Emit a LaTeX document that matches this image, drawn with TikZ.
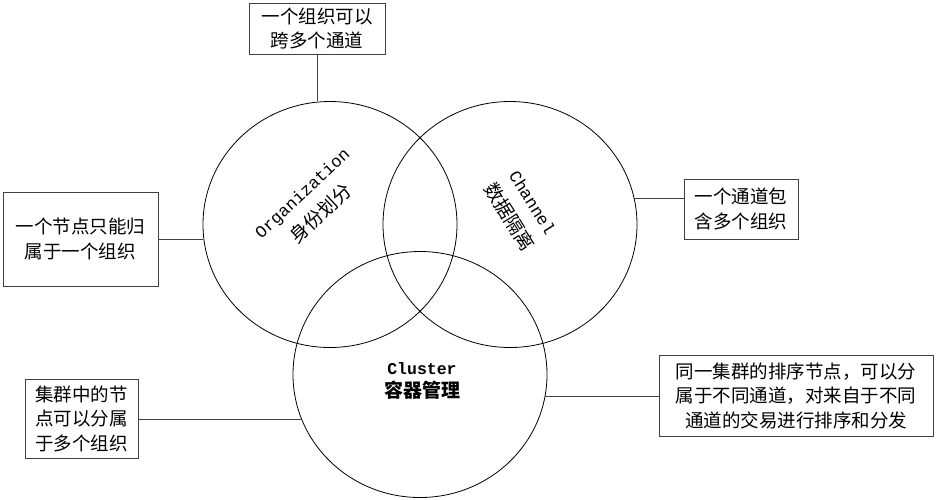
\documentclass[tikz,border=0pt]{standalone}
\usepackage{fontspec}
\setmainfont{Liberation Serif}
\newfontfamily\cjk{Noto Sans CJK SC}
\newfontfamily\monof{Liberation Mono}
\usetikzlibrary{shapes.geometric}
\tikzset{
  venn/.style={ellipse, draw=black, line width=0.8pt, minimum width=254pt, minimum height=246pt, inner sep=0pt},
  note/.style={draw=black!75, line width=1pt, inner sep=0pt, align=center, font=\cjk\fontsize{18.5}{24.5}\selectfont},
  link/.style={draw=black!75, line width=1pt},
  lbl/.style={align=center, inner sep=0pt}
}
\begin{document}
\begin{tikzpicture}[x=1pt,y=-1pt]
\useasboundingbox (0,0) rectangle (937,499);
% circles
\node[venn] (org) at (330,224.5) {};
\node[venn] (chan) at (510,224.5) {};
\node[venn] (clus) at (420,374.5) {};
% circle labels
\node[lbl, rotate=43, font=\fontsize{17}{28}\selectfont] (orglbl) at (312,204) {{\monof Organization}\\{\cjk\fontsize{19}{28}\selectfont 身份划分}};
\node[lbl, rotate=-58, font=\fontsize{17}{28}\selectfont] (chanlbl) at (520,210.5) {{\monof Channel}\\{\cjk\fontsize{19}{28}\selectfont 数据隔离}};
\node[lbl, font=\fontsize{16.5}{23}\selectfont] (cluslbl) at (422,381) {{\monof\bfseries Cluster}\\{\cjk\bfseries\fontsize{19}{23}\selectfont 容器管理}};
% note boxes
\node[note, minimum width=136pt, minimum height=51pt] (tbox) at (317,28.5) {一个组织可以\\跨多个通道};
\node[note, minimum width=155pt, minimum height=94pt] (lbox) at (80.5,239) {一个节点只能归\\属于一个组织};
\node[note, minimum width=114pt, minimum height=60pt] (rbox) at (741,209) {一个通道包\\含多个组织};
\node[note, minimum width=113pt, minimum height=79pt] (blbox) at (81.5,418.5) {集群中的节\\点可以分属\\于多个组织};
\node[note, minimum width=274pt, minimum height=81pt] (brbox) at (796,395.5) {同一集群的排序节点，可以分\\属于不同通道，对来自于不同\\通道的交易进行排序和分发};
% connectors
\draw[link] (tbox.south) -- (tbox.south |- org.north);
\draw[link] (lbox.east) -- (lbox.east -| org.west);
\draw[link] (chan.12) -- (chan.12 -| rbox.west);
\draw[link] (clus.201) -- (clus.201 -| blbox.east);
\draw[link] (clus.350) -- (clus.350 -| brbox.west);
\end{tikzpicture}
\end{document}
